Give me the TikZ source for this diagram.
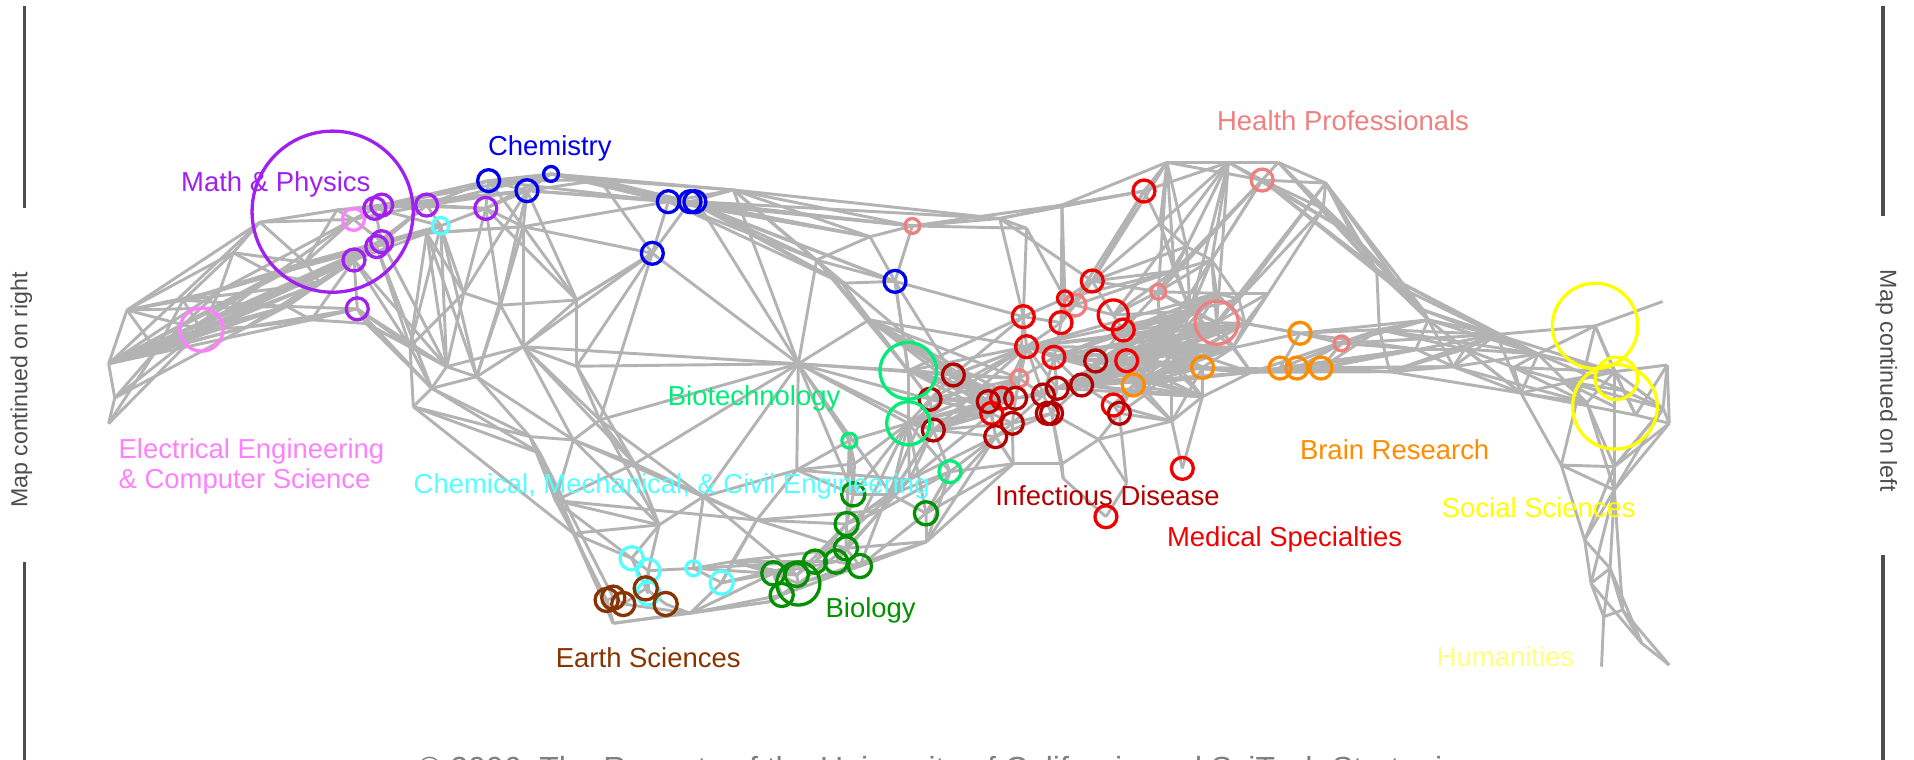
\documentclass[tikz,border=0pt]{standalone}
\usepackage{fontspec}
\setmainfont{Liberation Sans}
\definecolor{mapgray}{HTML}{B3B3B3}
\definecolor{bargray}{HTML}{4D4D4D}
\definecolor{creditgray}{HTML}{808080}
\definecolor{mathpurple}{HTML}{A020F0}
\definecolor{eepink}{HTML}{FF80FF}
\definecolor{chemblue}{HTML}{0000EE}
\definecolor{chemcyan}{HTML}{55FFFF}
\definecolor{biotech}{HTML}{00EE77}
\definecolor{biogreen}{HTML}{009000}
\definecolor{earthbrown}{HTML}{883300}
\definecolor{infred}{HTML}{B40000}
\definecolor{medred}{HTML}{F00000}
\definecolor{healthsalmon}{HTML}{F08080}
\definecolor{brainorange}{HTML}{FF8C00}
\definecolor{socyellow}{HTML}{FFFF00}
\definecolor{humyellow}{HTML}{FFFF80}
\newcommand{\fieldfont}{\fontsize{11.25}{13.5}\selectfont}
\tikzset{
  edge/.style={draw=mapgray, line width=1.2pt},
  ring/.style={circle, draw=#1, line width=1.35pt, inner sep=0pt},
  field/.style={text=#1, font=\fieldfont, inner sep=0pt, anchor=base west},
  bar/.style={draw=bargray, line width=1.5pt},
  sidenote/.style={text=bargray, font=\fontsize{9.5}{11}\selectfont, inner sep=0pt}
}
\begin{document}
\begin{tikzpicture}[x=0.5pt, y=-0.5pt]
\useasboundingbox (0,0) rectangle (1568,622.6);
% Sommets du reseau
\foreach \n/\px/\py in {w1/89/298, w2/89/347, w3/94/326, w4/104/254, w5/128/287, w6/150/246,
  w7/165/270, w8/191/207, w9/202/268, w10/213/182, w11/235/251, w12/250/215, w13/276/172,
  w14/300/265, w15/255/262, w16/180/238, w17/225/225, w18/262/232,
  m1/289.5/179.7, m2/307/170.7, m3/312.7/168, m4/312.7/198, m5/308.6/202, m6/290/213,
  m7/292.7/253, m8/349.5/168, m9/361/185, m10/398/170.7, mp/272.5/173.4,
  c1/400.3/148, c2/431.7/156.2, c3/451.4/142.5, c4/491.5/147.5, c5/547.5/165.2,
  c6/565.3/165.2, c6b/569.3/165.2, c7/534.4/207.5, c8/428.7/185.7, c9/349.5/191,
  c10/472.4/245.8, c11/600.8/155.6, c12/573.4/169.3,
  t1/669/213, t2/712.7/193.9, t3/747.4/185.1, t4/733.2/230.5, t5/819/179, t6/870/168,
  t7/937.2/156.5, t8/956/133, t9/1006.3/133, t10/1034/147.5, t11/1047.2/133, t12/1086/150,
  t13/1084/171, t14/950.3/183, t15/972/202, t16/992.6/213, t17/996.7/240.3, t18/1039/240.3,
  t19/1127.8/221.2, t20/1166/254, t21/841/187,
  p1/690/232, p2/712/262, q1/722/418, q2/745/393, v1/1108/192, v2/1148/236,
  u1/1160/286, u2/1200/286, u3/1240/301, u4/1280/312,
  d1/335.9/284, d2/338.6/333.2, d3/353.6/318.1, d4/365.9/300.4, d5/390.5/308.6,
  d6/428.7/284, d7/442.4/371.4, d8/434.2/357.7, d9/469.7/360.4, d10/491.5/344,
  d11/469.7/436.9, d12/502.4/510.6, d13/565.3/502.4, d14/576.2/406.9, d15/619.9/426,
  d16/652.7/385, d17/630.8/492.9, d18/472.4/300, d19/520/380, d20/540/430, d21/600/460,
  d22/410/250, d23/380/240, d24/455/410, d25/759.2/443.7, d26/700/380, d27/730/405,
  cy1/517.5/457.4, cy2/531.1/467.5, cy3/568/465.6, cy4/591.2/477.3, cy5/531.1/486.1,
  br1/497/491.5, br2/502.4/489.6, br3/510.6/494.8, br4/529/482, br5/545.3/494.8,
  g1/633.5/469.7, g2/640.4/487.4, g3/654/478, g4/652.7/471, g5/667.6/460.1, g6/684.9/460.1,
  g7/693/449.2, g8/704.5/463.7, g9/693.6/429.3, g10/699/405, g11/758.6/420.5,
  sg1/695.8/361, sg2/778.2/386.4, sg3/744.1/303.7, sg4/744.1/346.8, h/654/298,
  dr1/781/307.2, dr2/761.9/327.1, dr3/764.6/352.3, dr4/809.6/329, dr5/812.4/338.6,
  dr6/820.6/326.3, dr7/832/326.3, dr8/829.3/346.8, dr9/815.7/357.7, dr10/854.7/323.6,
  dr11/866.2/318.1, dr12/861.5/338.6, dr12b/858/338.6, dr13/886.1/315.4, dr14/897.6/295.7,
  dr15/912/331.8, dr16/917/338.6,
  r1/838.3/259.4, r2/841/284, r3/863.4/292.7, r4/869.2/264.3, r5/872.4/244.4,
  r6/894.8/230.2, r7/912/258, r8/920.2/270.3, r9/923/295.5,
  s1/880.6/249.9, s2/835/310, s3/948.9/239, s4/996.7/264.3, s5/1099/281.3,
  o1/928.4/315.4, o2/985.2/301, o3/1065/273, o4/1048.6/301.5, o5/1062.5/301.5, o6/1082.2/301.5,
  rr1/968.6/383.7, rr2/906/423.3,
  x1/950/280, x2/960/300, x3/940/322, x4/985/325, x5/1010/285, x6/900/360, x7/870/380,
  x8/830/380, x9/960/345, x10/1025/305, x11/1020/265, x12/871/392, x13/975/255,
  x14/962/222, x15/1015/245, x16/923/396,
  e1/1130/270, e2/1170/262, e3/1226/274, e4/1260/290, e5/1306.8/267, e6/1362/247,
  e7/1190.6/300.4, e8/1138.5/304.5, e9/1246/322, e10/1279/381, e11/1322.5/304.5,
  e12/1365.8/299, e13/1362.4/334.5, e14/1367.5/346.8, e15/1322.5/382.3, e16/1322.5/401.4,
  e17/1298.2/442.4, e18/1303.4/477.9, e19/1319/465.6, e20/1313.8/505.2, e21/1329.3/499.7,
  e22/1345/527, e23/1367.5/544.8, e24/1312/546.2, e25/1300/330, e26/1340/340, e27/1330/320,
  y2/1324.2/310, y3/1323/333.2}
  \coordinate (\n) at (\px,\py);
% Aile gauche
\foreach \a/\b in {w1/w4, w1/w5, w1/w7, w1/w9, w1/w16, w1/w11, w1/w17, w1/m6, w1/w15,
  w2/w3, w2/w5, w3/w5, w3/w1, w4/w6, w4/w8, w4/w5, w4/w7, w5/w7, w5/w6, w5/w9, w6/w7,
  w6/w8, w6/w16, w6/w11, w7/w9, w7/w16, w7/w17, w7/w11, w7/m6, w7/w18, w8/w10, w8/w16,
  w8/w17, w8/w12, w9/w11, w9/w15, w9/w18, w10/w13, w10/w12, w10/m1, w11/w18, w11/m6,
  w11/m7, w11/w15, w12/w13, w12/w18, w12/m1, w12/m4, w13/m1, w13/m2, w13/m3, w15/w14,
  w14/m7, w14/d1, w14/d4, w16/w17, w17/w18, w17/m1, w17/m5, w18/m6, w18/m4, w18/m5,
  w16/w12, w15/m6, w1/w10, w1/w12, w1/w18, w1/m4, w1/m5, w3/w9, w4/w10, w4/w11, w5/w11,
  w5/w18, w6/w12, w6/w18, w9/m6, w9/m4, w16/m1, w16/m4, w7/m4, w7/m5, w5/w16, w4/w16,
  w3/w7, w2/w7, w5/w17, w6/w17, w11/m4, w15/m7, w9/m7}
  \draw[edge] (\a) -- (\b);
% Maths et chimie
\foreach \a/\b in {m1/m2, m1/m3, m1/m4, m2/m3, m2/m8, m3/m8, m3/m10, m2/m4, m4/m5, m4/m6,
  m5/m6, m6/m7, m4/m9, m5/m9, m6/m8, m7/d1, m8/m9, m8/m10, m8/c1, m9/m10, m9/c9, m9/d4,
  m10/c1, m10/c2, m10/c8, m3/c1, m2/m9, m4/c9, m5/d1, m6/d1, m3/c3, m2/c1, m6/c9, m7/d4,
  m4/m8, m5/m8, m2/c2, m3/c2, m8/c3, m8/c2, m10/c3, m1/m8, m4/d4, m5/d3, m6/d4, m7/d3,
  w14/d3, m9/d1, m9/d5, c9/d5, c8/d5, m10/d23, m10/d22, c2/d23,
  c1/c2, c1/c3, c2/c3, c3/c4, c2/c4, c1/c4, c4/c5, c3/c5, c4/c6, c3/c6, c5/c6, c5/c7,
  c6/c7, c2/c8, c8/c9, c8/c7, c8/c10, c9/d4, c9/d1, c2/c10, c10/c7, c10/d6, c10/d18, c7/h,
  c7/d18, c5/c11, c6/c11, c6/c12, c12/h, c11/h, c6/t1, c5/t1, c11/t2, c11/t3, c4/c11,
  c3/c11, c6/t3, c5/t2, c1/c8, m10/c10, c8/d6, c8/d22, d22/d6, d22/c10, c2/d22, d23/d22,
  d23/m9, d23/d4, c9/d23, c7/c10, c4/c7, c2/c5, c8/c5, c9/c8, c7/d6, c1/c5, c2/c6, c3/c12}
  \draw[edge] (\a) -- (\b);
% Bande du haut
\foreach \a/\b in {t1/t2, t1/t4, t2/t3, t2/t4, t3/t4, t3/t21, t21/t5, t3/t5, t5/t6, t6/t7,
  t7/t8, t8/t9, t9/t10, t10/t11, t11/t12, t12/t13, t9/t11, t8/t10, t7/t14, t7/t9, t6/t8,
  t5/t7, t3/t6, t10/t12, t10/t13, t12/t19, t13/t19, t19/t20, t11/t19, t10/t20, t12/t20,
  t13/t20, t9/t16, t14/t15, t15/t16, t16/t17, t17/t18, t14/r6, t15/r6, t15/s3, t16/s4,
  t13/s4, t10/s3, t10/t16, t9/t15, t8/t14, t7/r6, t7/r4, t8/t15, t4/dr1, t4/sg3, t4/r1,
  t1/h, t1/sg3, t1/dr1, t21/r1, t21/r5, t5/r6, t6/r5, t20/e3, t20/e2, t19/e1, t19/e2,
  t11/t13, t9/t14, t8/x14, t10/x14, t12/x15, t9/x13,
  c6b/t5, c11/t5, c12/t2, c6/t2, c5/t3, c11/t1, c12/t4, c6/t4, c6b/t3, c6/p1, c6b/p1,
  c12/p1, p1/p2, p1/t4, p2/sg3, p2/dr1, p2/h, c11/p1, p1/sg3, p2/dr2, t1/p2, c5/p1,
  t10/v1, t11/v1, t12/v1, t13/v1, v1/t19, v1/v2, v2/t20, v2/e3, t12/v2, t19/e4, v2/e2,
  t20/e4, v1/t20, t9/v1, t10/v2, t14/x13, t15/x13, t16/x15, t17/s3, t16/x13, s3/t16,
  x14/t16}
  \draw[edge] (\a) -- (\b);
% Bande du bas
\foreach \a/\b in {d1/d2, d1/d3, d1/d4, d2/d3, d3/d4, d3/d5, d4/d5, d5/d6, d4/d6, d2/d7,
  d2/d8, d3/d8, d5/d8, d5/d9, d6/d9, d6/d10, d6/d18, d18/d10, d8/d7, d8/d9, d9/d10,
  d7/d11, d8/d11, d9/d24, d24/d11, d24/d19, d10/d19, d19/d14, d19/d20, d20/d11, d20/cy1,
  d11/cy1, d11/d12, d11/br1, d12/br1, d7/br2, d14/d15, d15/d16, d14/d16, d14/cy3,
  d15/cy4, d15/d21, d21/cy4, d21/g1, d16/g10, d16/h, d16/sg1, d14/h, d10/h, d18/h, d19/h,
  d15/g9, d16/d26, d26/sg1, d26/g10, d26/sg4, d27/g10, d27/g11, d27/sg2, d27/sg4, d6/h,
  d10/c7, d24/d15, d9/d14, d7/d24, d22/d5, d23/d1, d24/cy1, d20/cy2, d19/d15, d20/d14,
  d2/d11, d7/d12, d3/d7, d8/d24, d9/d19, d10/d20, d18/d19, d6/d19, d10/d14, d9/d20,
  d24/d20,
  cy1/cy2, cy2/cy5, cy5/br4, br4/br5, br5/d13, d13/cy4, cy4/cy3, cy3/cy2, d13/d17, d17/g2,
  br1/br2, br2/br3, br3/br4, br1/d12, br3/d13, d12/d13, d13/g2, d13/g1, cy4/g1, g1/g2,
  g1/g3, g1/g4, g2/g3, g3/g4, g4/g5, g5/g6, g6/g7, g6/g8, g7/g8, g7/g9, g9/g10, g5/g9,
  g3/g8, g8/d25, g7/d25, d25/g11, g11/sg2, g10/sg4, g9/d27, g8/g11, g10/sg1, d17/g3,
  g3/d25, d21/g4, cy3/g4, cy4/g5, d12/d17, cy2/br4, cy1/cy5, cy3/d21, d21/g5, g2/d25,
  g5/q2, g7/q1, g8/q1, q1/q2, q2/dr3, q2/sg4, q1/dr2, g6/q1, g9/q2, d21/g7, cy4/g6,
  cy3/g5, g4/g9, g3/g7, q2/dr9, q1/sg2, q2/dr5, g11/dr9, d25/dr9, g7/sg4, d15/g7, d15/q1,
  d16/q2, d14/g4, q1/dr3, g9/q1}
  \draw[edge] (\a) -- (\b);
% Centre
\foreach \a/\b in {h/sg3, h/sg4, h/sg1, h/dr2, h/dr3, h/g10, h/d27, h/dr1, sg3/sg4,
  sg3/dr1, sg3/dr2, sg4/dr2, sg4/dr3, sg4/sg2, sg3/t4, sg4/g11, dr1/dr2, dr2/dr3, dr3/sg2,
  sg2/g11, sg2/dr9, sg2/x8, sg3/s2, dr1/s2, dr1/dr4, dr1/r2, dr1/r1, sg1/sg4, sg1/g9,
  d25/sg2, d25/x8, g11/x8, sg4/dr4, sg3/r1, d27/dr3,
  dr2/dr4, dr3/dr9, dr3/dr5, dr4/dr5, dr4/dr6, dr5/dr6, dr6/dr7, dr7/dr8, dr8/dr9,
  dr5/dr9, dr7/dr10, dr8/dr12, dr10/dr11, dr11/dr12, dr10/dr12, dr11/dr13, dr13/dr14,
  dr13/dr15, dr15/dr16, dr14/r9, dr13/r3, dr11/r3, dr10/r2, dr7/s2, dr6/s2, s2/r2, r1/r2,
  r2/r3, r3/r4, r1/r4, r4/r5, r5/s1, s1/r6, r6/r7, r4/s1, s1/r7, r7/r8, r8/r9, r9/o1,
  o1/dr15, o1/dr16, r3/r9, r3/dr14, r2/r4, r1/r5, r6/s3, s3/r7, s3/x1, r8/x1, x1/x2,
  x2/r9, x2/x3, x3/o1, x3/dr16, x2/x4, x4/x9, x1/x5, x5/s4, s4/x10, x10/o2, x11/s4,
  x11/x5, x5/o2, x2/o2, x10/o4, o4/o5, o5/o6, o6/s5, s5/o3, o3/o4, o3/x11, x4/o2, x9/rr1,
  x4/rr1, dr16/x6, x6/x7, x7/x8, x8/dr9, x6/x16, x7/x12, x12/rr2, x16/rr2, dr15/x9,
  x3/x9, x9/x6, dr12/x7, s4/s3, s4/r8, s4/t17, t17/x11, t18/x11, t18/s4, r6/t7, r4/t6,
  r1/t5, dr14/r8, dr13/dr12, dr7/dr11, s2/r3, dr4/s2, r6/t8, r7/t9, r8/t10, x1/t10,
  s4/t9, s4/t12, x5/t13, s3/t8, x13/s3, x13/s4, x13/x1, x13/r7, x14/s3, x14/r6, x14/x13,
  x15/s4, x15/x11, x15/x13, x15/t17, x14/t15, x13/x5, x1/r9, x1/o1, x2/dr15, r9/x3,
  x5/x10, x11/o3, dr9/x8, dr8/x8, dr12/x6, dr16/x9, x9/o2, x4/x10, r5/r6, r1/s2, r2/dr6,
  x12/dr12, x16/dr16, dr14/x1, dr13/x3, dr11/r9, dr10/r3, r2/dr7, dr8/dr10, dr9/dr12,
  dr5/dr8, r9/x2, r8/x13, r7/x14, s1/x14, r5/x14, x14/t14, x1/x3, x2/x9, o1/x9, x3/x4,
  dr1/dr6, dr2/dr5, dr3/dr8, s2/dr10, r2/dr11, dr4/dr9}
  \draw[edge] (\a) -- (\b);
% Masse dense du centre
\foreach \a in {r2, r3, r9, dr14, dr11, dr13, x1, x2, o1}
  \foreach \b in {s4, x5, x11, x13, x10, o2, x4, t17}
    \draw[edge] (\a) -- (\b);
\foreach \a in {sg3, sg4, dr1, dr2, dr3, p2}
  \foreach \b in {dr4, dr5, dr6, dr7, s2, r2}
    \draw[edge] (\a) -- (\b);
% Partie droite
\foreach \a/\b in {o3/e1, s5/e1, o6/e8, e8/e7, x10/e8, x10/o6, o4/e8, o5/s5, x5/o3, o3/e2,
  o4/e7, o6/e1, s5/e3, x10/e1, o2/e8, o4/e1, o6/e3, e1/e2, e2/e3, e3/e4, e4/e5, e5/e6,
  e4/e11, e5/e11, e3/e9, e9/e10, e9/e11, e11/e12, e11/e13, e12/e13, e13/e14, e14/e15,
  e11/e15, e15/e16, e16/e17, e16/e19, e17/e18, e18/e19, e19/e21, e18/e20, e20/e24,
  e21/e22, e22/e23, e20/e21, e10/e17, e10/e16, e7/e9, e7/e3, e2/e7, e1/e8, o6/e7, s5/e2,
  e2/e4, e26/e12, e26/e11, e26/e14, e27/e5, e27/e26, e25/e9, e25/e4, e25/e15, e25/e11,
  e4/e9, e17/e19, e15/e13, e14/e16, e10/e15, e7/e4, e8/e3, e5/e10, e1/e4, e2/e9, e7/e25,
  e3/e11, e4/e27, e9/e26, e8/e9, e11/e16, e25/e16, e13/e16, e19/e22, e21/e23, e12/e14,
  e27/e13, e3/e5, t20/e4, t19/e3, e1/e3,
  o3/u1, o4/u1, o5/u1, o6/u1, s5/u1, u1/u2, u2/u3, u3/u4, u4/e11, u4/e25, u3/e9, u2/e3,
  u1/e7, u1/e2, u2/e7, u3/e4, u2/e4, u3/e25, e8/u2, e1/u2, x10/u1, u4/e13, u3/e11,
  u4/y3, u4/e27, u2/e9, e15/e17, e16/e18, e16/e21, e19/e20, e18/e22, e13/e15}
  \draw[edge] (\a) -- (\b);
% Cercles des disciplines
\foreach \v/\r/\c in {mp/66/mathpurple, m1/9/eepink, w7/17.7/eepink, m2/9/mathpurple,
  m3/9/mathpurple, m4/9/mathpurple, m5/9/mathpurple, m6/9/mathpurple, m7/9/mathpurple,
  m8/9/mathpurple, m10/9/mathpurple, m9/6.8/chemcyan,
  c1/9/chemblue, c2/9/chemblue, c3/6.1/chemblue, c5/9/chemblue, c6/9/chemblue,
  c6b/9/chemblue, c7/9/chemblue, t4/9/chemblue,
  t3/6.1/healthsalmon, t10/9/healthsalmon, s1/9/healthsalmon, s2/7/healthsalmon,
  s3/6.1/healthsalmon, s4/17.7/healthsalmon, s5/6.1/healthsalmon,
  t7/9/medred, r1/9/medred, r2/9/medred, r3/9/medred, r4/9/medred, r5/6.1/medred,
  r6/9/medred, r7/12.3/medred, r8/9/medred, r9/9/medred, rr1/9/medred, rr2/9/medred,
  dr5/9/medred, dr6/9/medred, dr15/9/medred,
  dr1/9/infred, dr2/9/infred, dr3/9/infred, dr4/9/infred, dr7/9/infred, dr8/9/infred,
  dr9/9/infred, dr10/9/infred, dr11/9/infred, dr12/9/infred, dr12b/9/infred,
  dr13/9/infred, dr14/9/infred, dr16/9/infred,
  o1/9/brainorange, o2/9/brainorange, o3/9/brainorange, o4/9/brainorange,
  o5/9/brainorange, o6/9/brainorange,
  e5/35/socyellow, y2/17.4/socyellow, y3/34.7/socyellow,
  sg1/6.1/biotech, sg2/9/biotech, sg3/23.2/biotech, sg4/17.7/biotech,
  g1/9.5/biogreen, g2/9.5/biogreen, g3/17.7/biogreen, g4/9.5/biogreen, g5/9.5/biogreen,
  g6/9.5/biogreen, g7/9.5/biogreen, g8/9.5/biogreen, g9/9.5/biogreen, g10/9.5/biogreen,
  g11/9.5/biogreen,
  cy1/9.5/chemcyan, cy2/9.5/chemcyan, cy3/6.1/chemcyan, cy4/9.5/chemcyan, cy5/9.5/chemcyan,
  br1/9.5/earthbrown, br2/9.5/earthbrown, br3/9.5/earthbrown, br4/9.5/earthbrown,
  br5/9.5/earthbrown}
  \node[ring=\c, minimum size=\r pt] (ring-\v) at (\v) {};
% Noms des disciplines
\node[field=mathpurple] (lab-math) at (148,157) {Math \& Physics};
\node[field=chemblue] (lab-chem) at (399.4,127) {Chemistry};
\node[field=healthsalmon] (lab-health) at (996.7,107) {Health Professionals};
\node[field=biotech] (lab-biotech) at (546.7,331.8) {Biotechnology};
\node[field=eepink] (lab-ee1) at (96.8,375.5) {Electrical Engineering};
\node[field=eepink] (lab-ee2) at (96.8,400) {\& Computer Science};
\node[field=chemcyan] (lab-cme) at (338.5,404) {Chemical, Mechanical, \& Civil Engineering};
\node[field=infred] (lab-inf) at (815,413.7) {Infectious Disease};
\node[field=medred] (lab-med) at (955.7,447.8) {Medical Specialties};
\node[field=brainorange] (lab-brain) at (1064.6,376.8) {Brain Research};
\node[field=socyellow] (lab-soc) at (1180.8,424) {Social Sciences};
\node[field=biogreen] (lab-bio) at (676,506) {Biology};
\node[field=earthbrown] (lab-earth) at (455,546.5) {Earth Sciences};
\node[field=humyellow] (lab-hum) at (1176.7,546) {Humanities};
% Bords de la carte
\coordinate (bl1) at (20,5);       \coordinate (bl2) at (20,170.7);
\coordinate (bl3) at (20,460);     \coordinate (bl4) at (20,630);
\coordinate (br1e) at (1542.7,5);  \coordinate (br2e) at (1542.7,177);
\coordinate (br3e) at (1542.7,454.6); \coordinate (br4e) at (1542.7,630);
\draw[bar] (bl1) -- (bl2);
\draw[bar] (bl3) -- (bl4);
\draw[bar] (br1e) -- (br2e);
\draw[bar] (br3e) -- (br4e);
\node[sidenote, rotate=90] (note-left) at (17.5,319.5) {Map continued on right};
\node[sidenote, rotate=-90] (note-right) at (1545.3,312) {Map continued on left};
% Mention en bas
\node[anchor=north west, inner sep=0pt, text=creditgray, font=\fontsize{13.1}{15}\selectfont]
  (credit) at (342,619) {© 2006, The Regents of the University of California and SciTech Strategies};
\end{tikzpicture}
\end{document}
